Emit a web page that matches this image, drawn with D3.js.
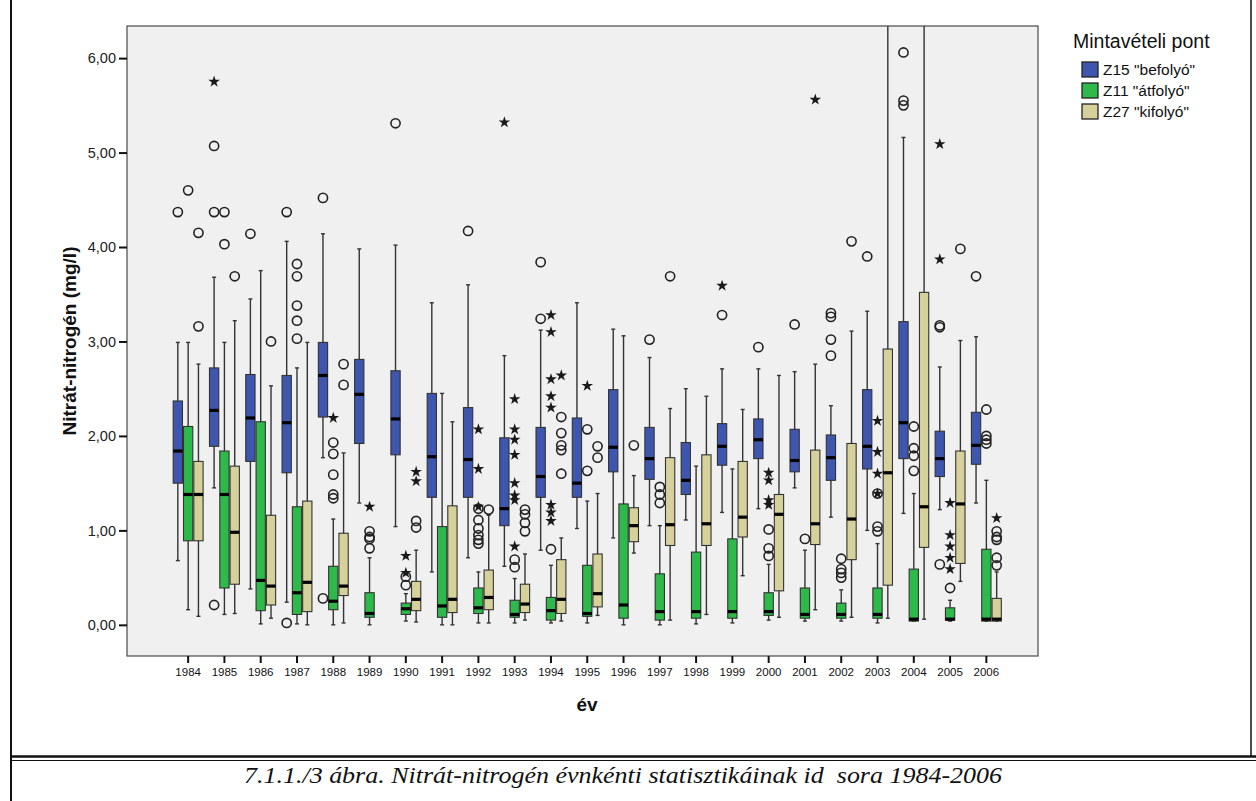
<!DOCTYPE html>
<html>
<head>
<meta charset="utf-8">
<script src="https://cdn.jsdelivr.net/npm/d3@7"></script>
<style>
  body { margin: 0; background: #ffffff; }
  svg { display: block; }
  text { font-family: "Liberation Sans", Arial, sans-serif; }
</style>
</head>
<body>
<svg id="chart" width="1256" height="801"></svg>
<script>
// Sampling years on the x axis
const years = [1984, 1985, 1986, 1987, 1988, 1989, 1990, 1991, 1992, 1993, 1994, 1995,
               1996, 1997, 1998, 1999, 2000, 2001, 2002, 2003, 2004, 2005, 2006];

// Sampling points (legend entries) and their fills
const seriesNames = ['Z15 "befolyó"', 'Z11 "átfolyó"', 'Z27 "kifolyó"'];
const seriesColors = ["#3f56ae", "#2eb94b", "#d6d09b"];

const yTicks = [0, 1, 2, 3, 4, 5, 6];

// Five-number summaries per year: [lower whisker, Q1, median, Q3, upper whisker] (mg/l)
const z15Stats = [
  [0.68, 1.50, 1.84, 2.37, 2.99], [1.45, 1.89, 2.27, 2.72, 3.68], [0.38, 1.73, 2.19, 2.65, 3.45],
  [0.24, 1.61, 2.14, 2.64, 4.06], [1.77, 2.20, 2.64, 2.99, 4.14], [1.29, 1.92, 2.44, 2.81, 3.98],
  [1.04, 1.80, 2.18, 2.69, 4.02], [0.56, 1.35, 1.78, 2.45, 3.41], [0.71, 1.35, 1.75, 2.30, 3.60],
  [0.62, 1.05, 1.23, 1.98, 2.85], [0.79, 1.35, 1.57, 2.09, 3.12], [1.02, 1.35, 1.50, 2.19, 3.41],
  [0.92, 1.62, 1.88, 2.49, 3.13], [1.05, 1.54, 1.76, 2.09, 2.83], [1.11, 1.38, 1.53, 1.93, 2.50],
  [1.19, 1.69, 1.89, 2.13, 2.71], [1.23, 1.76, 1.96, 2.18, 2.71], [1.45, 1.62, 1.74, 2.07, 2.68],
  [1.14, 1.53, 1.77, 2.01, 2.32], [1.00, 1.65, 1.89, 2.49, 3.32], [1.18, 1.76, 2.14, 3.21, 5.16],
  [1.22, 1.57, 1.76, 2.05, 2.73], [1.29, 1.70, 1.90, 2.25, 3.05]
];
const z11Stats = [
  [0.16, 0.89, 1.38, 2.10, 2.99], [0.11, 0.39, 1.38, 1.84, 2.99], [0.01, 0.15, 0.47, 2.15, 3.75],
  [0.01, 0.11, 0.34, 1.25, 2.72], [0.00, 0.16, 0.25, 0.62, 1.12], [0.00, 0.08, 0.12, 0.34, 0.71],
  [0.04, 0.11, 0.17, 0.23, 0.33], [0.00, 0.08, 0.20, 1.04, 2.45], [0.02, 0.12, 0.18, 0.39, 0.56],
  [0.02, 0.08, 0.11, 0.26, 0.49], [0.02, 0.05, 0.15, 0.29, 0.63], [0.02, 0.09, 0.12, 0.63, 1.31],
  [0.00, 0.07, 0.21, 1.28, 3.06], [0.00, 0.05, 0.14, 0.54, 1.05], [0.01, 0.07, 0.14, 0.77, 1.68],
  [0.02, 0.07, 0.14, 0.91, 1.65], [0.05, 0.10, 0.14, 0.34, 0.64], [0.04, 0.07, 0.11, 0.39, 0.79],
  [0.04, 0.07, 0.11, 0.23, 0.37], [0.02, 0.07, 0.11, 0.39, 0.86], [0.04, 0.04, 0.06, 0.59, 1.39],
  [0.04, 0.05, 0.06, 0.18, 0.26], [0.04, 0.04, 0.06, 0.80, 1.53]
];
// 1989 has no Z27 samples; 2003 and 2004 upper whiskers run past the top of the axis
const z27Stats = [
  [0.09, 0.89, 1.38, 1.73, 2.76], [0.12, 0.43, 0.98, 1.68, 3.22], [0.07, 0.21, 0.41, 1.16, 2.53],
  [0.00, 0.14, 0.45, 1.31, 2.99], [0.02, 0.31, 0.41, 0.97, 1.82], null,
  [0.03, 0.15, 0.27, 0.46, 0.79], [0.00, 0.13, 0.27, 1.26, 2.15], [0.02, 0.16, 0.29, 0.58, 1.16],
  [0.05, 0.13, 0.22, 0.43, 0.75], [0.04, 0.12, 0.27, 0.69, 0.92], [0.10, 0.19, 0.33, 0.75, 1.39],
  [0.76, 0.88, 1.05, 1.24, 1.58], [0.05, 0.84, 1.06, 1.77, 2.29], [0.11, 0.84, 1.07, 1.80, 2.42],
  [0.52, 0.93, 1.14, 1.73, 2.28], [0.08, 0.36, 1.17, 1.38, 2.64], [0.16, 0.85, 1.07, 1.85, 2.76],
  [0.08, 0.69, 1.12, 1.92, 3.11], [0.07, 0.42, 1.61, 2.92, 8.00], [0.06, 0.82, 1.25, 3.52, 8.00],
  [0.46, 0.65, 1.28, 1.84, 3.01], [0.04, 0.04, 0.06, 0.28, 0.56]
];

// Outliers (circles) and extreme values (stars): [year, value]
const z15Outliers = [
  [1984, 4.37], [1985, 5.07], [1985, 4.37], [1985, 0.21], [1986, 4.14], [1987, 4.37], [1987, 0.02],
  [1988, 4.52], [1988, 0.28], [1990, 5.31], [1992, 4.17], [1994, 3.84], [1994, 3.24], [1997, 3.02],
  [1999, 3.28], [2000, 2.94], [2001, 3.18], [2002, 3.30], [2002, 3.26], [2002, 3.02], [2002, 2.85],
  [2003, 3.90], [2004, 6.06], [2004, 5.55], [2004, 5.50], [2005, 3.17], [2005, 3.15], [2005, 0.64],
  [2006, 3.69]
];
const z15Extremes = [[1985, 5.75], [1993, 5.32], [1999, 3.59], [2005, 5.09], [2005, 3.87]];

const z11Outliers = [
  [1984, 4.60], [1985, 4.37], [1985, 4.03], [1987, 3.82], [1987, 3.69], [1987, 3.38], [1987, 3.22],
  [1987, 3.03], [1988, 1.93], [1988, 1.81], [1988, 1.59], [1988, 1.38], [1988, 1.34], [1989, 0.99],
  [1989, 0.93], [1989, 0.91], [1989, 0.81], [1990, 0.51], [1990, 0.42], [1992, 1.23], [1992, 1.11],
  [1992, 1.02], [1992, 0.95], [1992, 0.90], [1992, 0.86], [1993, 0.69], [1993, 0.61], [1994, 0.80],
  [1995, 2.07], [1995, 1.63], [1997, 1.46], [1997, 1.38], [1997, 1.29], [2000, 1.01], [2000, 0.81],
  [2000, 0.73], [2001, 0.91], [2002, 0.70], [2002, 0.59], [2002, 0.55], [2002, 0.50], [2003, 1.39],
  [2003, 1.04], [2003, 0.99], [2004, 2.10], [2004, 1.87], [2004, 1.79], [2004, 1.63], [2005, 0.39],
  [2006, 2.28], [2006, 2.00], [2006, 1.96], [2006, 1.92]
];
const z11Extremes = [
  [1988, 2.19], [1989, 1.25], [1990, 0.73], [1990, 0.55], [1992, 2.07], [1992, 1.65], [1992, 1.25],
  [1993, 2.39], [1993, 2.07], [1993, 1.96], [1993, 1.80], [1993, 1.50], [1993, 1.37], [1993, 1.32],
  [1993, 0.83], [1994, 3.28], [1994, 3.10], [1994, 2.60], [1994, 2.42], [1994, 2.30], [1994, 1.27],
  [1994, 1.19], [1994, 1.10], [1995, 2.53], [2000, 1.61], [2000, 1.53], [2000, 1.32], [2000, 1.27],
  [2003, 2.16], [2003, 1.83], [2003, 1.60], [2003, 1.39], [2005, 1.29], [2005, 0.95], [2005, 0.83],
  [2005, 0.71], [2005, 0.59]
];

const z27Outliers = [
  [1984, 4.15], [1984, 3.16], [1985, 3.69], [1986, 3.00], [1988, 2.76], [1988, 2.54], [1990, 1.10],
  [1990, 1.03], [1992, 1.22], [1993, 1.22], [1993, 1.17], [1993, 1.08], [1993, 0.99], [1994, 2.20],
  [1994, 2.03], [1994, 1.90], [1994, 1.85], [1994, 1.60], [1995, 1.89], [1995, 1.77], [1996, 1.90],
  [1997, 3.69], [2002, 4.06], [2005, 3.98], [2006, 0.99], [2006, 0.93], [2006, 0.90], [2006, 0.71],
  [2006, 0.63]
];
const z27Extremes = [[1990, 1.62], [1990, 1.52], [1994, 2.64], [2001, 5.56], [2006, 1.13]];

const statsBySeries = [z15Stats, z11Stats, z27Stats];
const outliersBySeries = [z15Outliers, z11Outliers, z27Outliers];
const extremesBySeries = [z15Extremes, z11Extremes, z27Extremes];

// ---- layout ----
const svg = d3.select("#chart");
const plot = { left: 127, right: 1038, top: 26, bottom: 656 };

const x = d3.scaleBand().domain(years).range([170, 1004.5]);
const xs = d3.scaleBand().domain(d3.range(3)).range([0, x.bandwidth()])
  .paddingInner(0.1).paddingOuter(0.31);
const y = d3.scaleLinear().domain([-0.33, 6.34]).range([plot.bottom, plot.top]);

// Page frame and caption box
const frame = svg.append("g").attr("stroke", "#111").attr("fill", "none");
frame.append("line").attr("x1", 11).attr("x2", 11).attr("y1", 0).attr("y2", 801).attr("stroke-width", 2);
frame.append("line").attr("x1", 1251).attr("x2", 1251).attr("y1", 0).attr("y2", 757).attr("stroke-width", 1.5);
frame.append("line").attr("x1", 11).attr("x2", 1256).attr("y1", 756.5).attr("y2", 756.5).attr("stroke-width", 2.5);
frame.append("line").attr("x1", 11).attr("x2", 1256).attr("y1", 760.5).attr("y2", 760.5).attr("stroke-width", 1);

svg.append("text")
  .attr("x", 623).attr("y", 783)
  .attr("text-anchor", "middle")
  .attr("textLength", 758).attr("lengthAdjust", "spacingAndGlyphs")
  .style("font-family", '"Liberation Serif", "Times New Roman", serif')
  .style("font-style", "italic")
  .style("font-size", "24px")
  .attr("fill", "#111")
  .attr("xml:space", "preserve")
  .text("7.1.1./3 ábra. Nitrát-nitrogén évnkénti statisztikáinak id  sora 1984-2006");

// Plot background
svg.append("rect")
  .attr("x", plot.left).attr("y", plot.top)
  .attr("width", plot.right - plot.left).attr("height", plot.bottom - plot.top)
  .attr("fill", "#f0f0f0").attr("stroke", "#4a4a4a").attr("stroke-width", 1.2);

svg.append("clipPath").attr("id", "plot-clip")
  .append("rect")
  .attr("x", plot.left).attr("y", plot.top)
  .attr("width", plot.right - plot.left).attr("height", plot.bottom - plot.top);

// Axes
const yAxis = svg.append("g")
  .attr("transform", `translate(${plot.left},0)`)
  .call(d3.axisLeft(y).tickValues(yTicks).tickSize(8).tickPadding(3)
    .tickFormat(d => d3.format(".2f")(d).replace(".", ",")));
yAxis.select(".domain").remove();
yAxis.selectAll(".tick line").attr("stroke", "#111").attr("stroke-width", 2);
yAxis.selectAll(".tick text").attr("fill", "#222")
  .style("font-size", "14.5px").style("font-family", '"Liberation Sans", Arial, sans-serif');

const xAxis = svg.append("g")
  .attr("transform", `translate(0,${plot.bottom})`)
  .call(d3.axisBottom(x).tickSize(7).tickPadding(5).tickSizeOuter(0));
xAxis.select(".domain").remove();
xAxis.selectAll(".tick line").attr("stroke", "#111").attr("stroke-width", 2);
xAxis.selectAll(".tick text").attr("fill", "#111")
  .style("font-size", "11.5px").style("font-family", '"Liberation Sans", Arial, sans-serif');

// Axis titles
svg.append("text")
  .attr("transform", "translate(76,341) rotate(-90)")
  .attr("text-anchor", "middle")
  .style("font-size", "19px").style("font-weight", "bold")
  .attr("fill", "#111")
  .text("Nitrát-nitrogén (mg/l)");

svg.append("text")
  .attr("x", 587).attr("y", 711)
  .attr("text-anchor", "middle")
  .style("font-size", "19px").style("font-weight", "bold")
  .attr("fill", "#111")
  .text("év");

// Box plots
const marks = svg.append("g").attr("clip-path", "url(#plot-clip)");
const bw = xs.bandwidth();
const capHalf = 2;

statsBySeries.forEach((stats, s) => {
  const g = marks.append("g");
  const rows = years.map((yr, i) => ({ yr, st: stats[i] })).filter(d => d.st);
  const cx = d => x(d.yr) + xs(s) + bw / 2;

  g.selectAll("line.whisker").data(rows).join("line")
    .attr("x1", cx).attr("x2", cx)
    .attr("y1", d => y(d.st[0])).attr("y2", d => y(d.st[4]))
    .attr("stroke", "#333").attr("stroke-width", 1.4);

  [0, 4].forEach(k => {
    g.selectAll(`line.cap${k}`).data(rows).join("line")
      .attr("x1", d => cx(d) - capHalf).attr("x2", d => cx(d) + capHalf)
      .attr("y1", d => y(d.st[k])).attr("y2", d => y(d.st[k]))
      .attr("stroke", "#333").attr("stroke-width", 1.4);
  });

  g.selectAll("rect.box").data(rows).join("rect")
    .attr("x", d => x(d.yr) + xs(s)).attr("width", bw)
    .attr("y", d => y(d.st[3])).attr("height", d => Math.max(1, y(d.st[1]) - y(d.st[3])))
    .attr("fill", seriesColors[s]).attr("stroke", "#333").attr("stroke-width", 1.1);

  g.selectAll("line.median").data(rows).join("line")
    .attr("x1", d => x(d.yr) + xs(s)).attr("x2", d => x(d.yr) + xs(s) + bw)
    .attr("y1", d => y(d.st[2])).attr("y2", d => y(d.st[2]))
    .attr("stroke", "#000").attr("stroke-width", 3.2);
});

// Outliers and extremes
const star = d3.symbol().type(d3.symbolStar).size(42);
statsBySeries.forEach((_, s) => {
  const g = marks.append("g");
  g.selectAll("circle").data(outliersBySeries[s]).join("circle")
    .attr("cx", d => x(d[0]) + xs(s) + bw / 2)
    .attr("cy", d => y(d[1]))
    .attr("r", 4.6)
    .attr("fill", "none").attr("stroke", "#222").attr("stroke-width", 1.6);
  g.selectAll("path").data(extremesBySeries[s]).join("path")
    .attr("d", star)
    .attr("transform", d => `translate(${x(d[0]) + xs(s) + bw / 2},${y(d[1])})`)
    .attr("fill", "#1a1a1a");
});

// Legend
const legend = svg.append("g").attr("transform", "translate(1073,0)");
legend.append("text")
  .attr("x", 0).attr("y", 48)
  .style("font-size", "19.5px").attr("fill", "#111")
  .text("Mintavételi pont");
const items = legend.selectAll("g.item").data(seriesNames).join("g")
  .attr("transform", (d, i) => `translate(9,${62 + i * 21})`);
items.append("rect")
  .attr("width", 16).attr("height", 15)
  .attr("fill", (d, i) => seriesColors[i])
  .attr("stroke", "#222").attr("stroke-width", 1.3);
items.append("text")
  .attr("x", 21).attr("y", 13)
  .style("font-size", "15.5px").attr("fill", "#111")
  .text(d => d);
</script>
</body>
</html>
